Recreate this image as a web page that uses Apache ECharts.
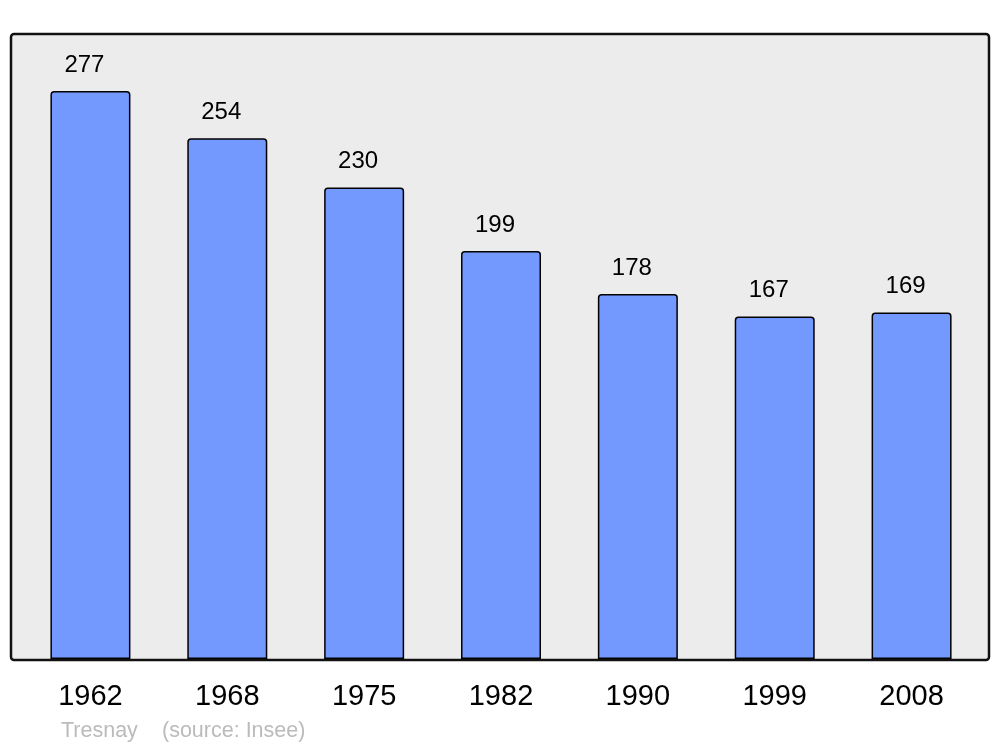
<!DOCTYPE html>
<html>
<head>
<meta charset="utf-8">
<script src="https://cdn.jsdelivr.net/npm/echarts@6/dist/echarts.min.js"></script>
<style>
  html, body { margin: 0; padding: 0; background: #fff; }
  #chart { width: 1000px; height: 747px; }
</style>
</head>
<body>
<div id="chart"></div>
<script>
// population figures
const years = ['1962', '1968', '1975', '1982', '1990', '1999', '2008']
const population = [277, 254, 230, 199, 178, 167, 169]
const footerName = 'Tresnay'
const footerSource = '(source: Insee)'

const chart = echarts.init(document.getElementById('chart'))

chart.setOption({
    animation: false,
    textStyle: {
        fontFamily: 'Liberation Sans, Arial, sans-serif',
    },
    graphic: [
        {
            type: 'rect',
            z: -10,
            shape: { x: 11, y: 34, width: 978, height: 626, r: 3 },
            style: { fill: '#ececec', stroke: '#111', lineWidth: 2.5 },
        },
        {
            type: 'text',
            left: 61,
            top: 720,
            style: {
                text: footerName,
                fill: '#bbbbbb',
                font: '21.5px Liberation Sans, Arial, sans-serif',
            },
        },
        {
            type: 'text',
            left: 162,
            top: 720,
            style: {
                text: footerSource,
                fill: '#bbbbbb',
                font: '21.5px Liberation Sans, Arial, sans-serif',
            },
        },
    ],
    grid: {
        left: 22,
        width: 958,
        top: 34,
        bottom: 88,
    },
    xAxis: {
        type: 'category',
        data: years,
        axisLine: { show: false },
        axisTick: { show: false },
        axisLabel: {
            color: '#000',
            fontSize: 29,
            margin: 23,
        },
    },
    yAxis: {
        type: 'value',
        min: 0,
        max: 304.8,
        show: false,
        splitLine: { show: false },
    },
    series: [
        {
            type: 'bar',
            data: population,
            barWidth: 80,
            itemStyle: {
                color: '#7399ff',
                borderColor: '#000',
                borderWidth: 1.5,
                borderRadius: [3, 3, 0, 0],
            },
            label: {
                show: true,
                position: 'top',
                distance: 14,
                offset: [-6, 0],
                color: '#000',
                fontSize: 24,
            },
        },
    ],
})
</script>
</body>
</html>
